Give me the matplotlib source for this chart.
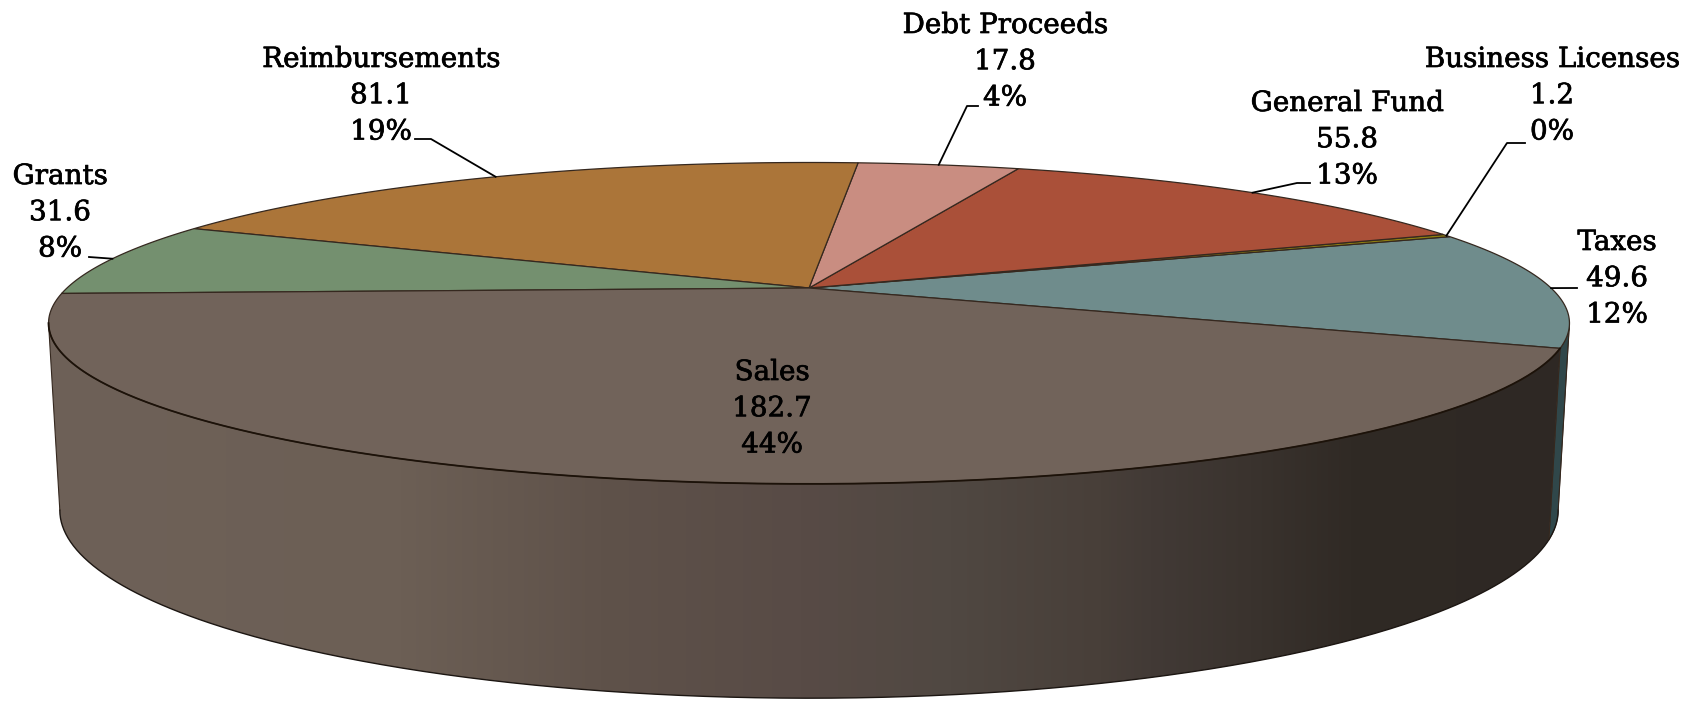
import numpy as np
import matplotlib
matplotlib.use('Agg')
import matplotlib.pyplot as plt
import matplotlib.patheffects as pe
from matplotlib.patches import Polygon

# counter clockwise from the Sales/Taxes edge
labels = ['Taxes', 'Business Licenses', 'General Fund', 'Debt Proceeds',
          'Reimbursements', 'Grants', 'Sales']
values = [49.6, 1.2, 55.8, 17.8, 81.1, 31.6, 182.7]
colors = ['#6f8c8c', '#8f7f10', '#aa5039', '#c98d81', '#ab7539', '#74906f', '#71635a']

# label centre, first line
label_pos = {'Taxes': (1617, 229), 'Business Licenses': (1552, 46), 'General Fund': (1347, 90),
             'Debt Proceeds': (1005, 12), 'Reimbursements': (381, 46), 'Grants': (60, 163),
             'Sales': (772, 359)}
# leader bends, going out from the rim
leader_pts = {'Taxes': [(1577, 288)],
              'Business Licenses': [(1507, 143), (1525, 143)],
              'General Fund': [(1297, 183), (1310, 183)],
              'Debt Proceeds': [(967, 106), (978, 106)],
              'Reimbursements': [(431, 139), (415, 139)],
              'Grants': [(89, 257)]}

START = -21.3
CX, CY = 809, 288
A, B, K = 742, 153, 0.219
CY2, A2, B2 = 469, 731, 179
LINE = '#35281f'


def rim(theta, cy=CY, a=A, b=B):
    t = np.radians(theta)
    d = 1 + K * np.sin(t)
    return CX + a * np.cos(t) / d, cy - b * np.sin(t) / d


def rim_low(theta):
    return rim(theta, CY2, A2, B2)


fig = plt.figure(figsize=(16.98, 7.01), dpi=100)
ax = fig.add_axes([0, 0, 1, 1])

total = sum(values)
sweeps = np.array(values) / total * 360
edges = START + np.concatenate([[0], np.cumsum(sweeps)])
tangent = np.degrees(np.arcsin(-K))

# outer wall, Sales part with the left to right shading
th = np.linspace(180 - tangent, edges[-1], 300)
xt, yt = rim(th)
xb, yb = rim_low(th)
xs = [50, 400, 600, 800, 950, 1100, 1150, 1250, 1350, 1560]
px = np.arange(0, 1698)
shade = np.dstack([np.interp(px, xs, [110, 108, 95, 88, 80, 72, 66, 58, 48, 46]),
                   np.interp(px, xs, [97, 95, 82, 75, 72, 63, 58, 51, 42, 40]),
                   np.interp(px, xs, [88, 85, 74, 70, 66, 57, 54, 46, 37, 36])]) / 255
wall = Polygon(np.c_[np.r_[xt, xb[::-1]], np.r_[yt, yb[::-1]]], closed=True, transform=ax.transData)
im = ax.imshow(shade, extent=(0, 1698, 701, 0), aspect='auto', zorder=1)
im.set_clip_path(wall)

# Taxes part of the wall
th = np.linspace(edges[0], tangent, 12)
xt, yt = rim(th)
xb, yb = rim_low(th)
ax.fill(np.r_[xt, xb[::-1]], np.r_[yt, yb[::-1]], color='#30474a', ec=LINE, lw=0.6, zorder=1)

th = np.linspace(180 - tangent, 360 + tangent, 400)
ax.plot(*rim_low(th), color='#1c1612', lw=1.0, zorder=2)
for t in [180 - tangent, edges[0], tangent]:
    ax.plot([rim(t)[0], rim_low(t)[0]], [rim(t)[1], rim_low(t)[1]], color=LINE, lw=0.8, zorder=2)

# top face
for i, name in enumerate(labels):
    th = np.linspace(edges[i], edges[i + 1], 200)
    xr, yr = rim(th)
    ax.fill(np.r_[CX, xr], np.r_[CY, yr], fc=colors[i], ec=LINE, lw=0.9, zorder=3)
    pct = f'{values[i] / total * 100:.0f}%'
    x, y = label_pos[name]
    ax.text(x, y, f'{name}\n{values[i]}\n{pct}', ha='center', va='top', ma='center',
            family='DejaVu Serif', fontsize=20, linespacing=1.44, color='black', zorder=6,
            path_effects=[pe.withStroke(linewidth=0.5, foreground='black')])
    if name in leader_pts:
        xm, ym = rim(edges[i] + sweeps[i] / 2)
        lx = [xm] + [p[0] for p in leader_pts[name]]
        ly = [ym] + [p[1] for p in leader_pts[name]]
        ax.plot(lx, ly, color='black', lw=1.3, zorder=4)

# dark front edge of the top face
th = np.linspace(180 - tangent, edges[-1], 300)
ax.plot(*rim(th), color='#1c1209', lw=1.3, zorder=5)

ax.set_xlim(0, 1698)
ax.set_ylim(701, 0)
ax.axis('off')

fig.savefig('out.png', dpi=100, facecolor='white')
